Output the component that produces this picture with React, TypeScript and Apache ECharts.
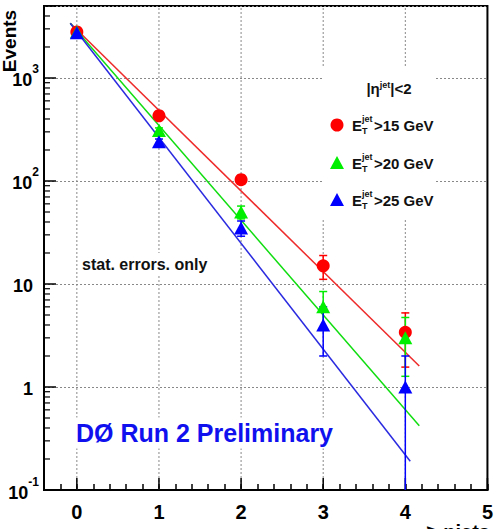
import React, { useEffect, useRef } from 'react';
import * as echarts from 'echarts';

// Jet multiplicity bins
const nJets = [0, 1, 2, 3, 4];

// Inclusive event counts and statistical errors per E_T threshold
const eventsEt15 = [2800, 430, 103, 15, 3.4];
const errorsEt15 = [53, 21, 10, 3.9, 1.84];
const eventsEt20 = [2800, 310, 50, 6, 3];
const errorsEt20 = [53, 17.6, 7.1, 2.45, 1.73];
const eventsEt25 = [2750, 240, 35, 4, 1];
const errorsEt25 = [52, 15.5, 5.9, 2, 1];

// Exponential fit lines (end points)
const fitEt15 = [[-0.08, 3400], [4.17, 1.6]];
const fitEt20 = [[-0.08, 3400], [4.17, 0.42]];
const fitEt25 = [[-0.08, 3400], [4.06, 0.19]];

// Axis ticks
const xMajorTicks = [0, 1, 2, 3, 4, 5];
const yDecades = [0.1, 1, 10, 100, 1000];
const yMinorSteps = [2, 3, 4, 5, 6, 7, 8, 9];

// Legend texts
const legendTitle = '|η{s|jet}|<2';
const legendCuts = ['>15 GeV', '>20 GeV', '>25 GeV'];

const X_MIN = -0.4;
const X_MAX = 5;
const Y_MIN = 0.1;
const Y_MAX = 5000;

const FONT = '"Liberation Sans", Arial, Helvetica, sans-serif';
const RED = '#ff0000';
const GREEN = '#00ee00';
const BLUE = '#0000ff';

function errorBars(name: string, values: number[], errors: number[], color: string) {
  return {
    type: 'custom',
    name,
    z: 3,
    silent: true,
    clip: false,
    data: nJets.map((x, i) => [x, values[i], errors[i]]),
    encode: { x: 0, y: 1 },
    renderItem: (_params: any, api: any) => {
      const x = api.value(0);
      const y = api.value(1);
      const e = api.value(2);
      const low = y - e;
      const clipped = low <= Y_MIN;
      const top = api.coord([x, y + e]);
      const bottom = api.coord([x, clipped ? Y_MIN : low]);
      const cap = 4;
      const st = { stroke: color, lineWidth: 1.5 };
      const children: any[] = [
        { type: 'line', shape: { x1: top[0], y1: top[1], x2: bottom[0], y2: bottom[1] }, style: st },
        { type: 'line', shape: { x1: top[0] - cap, y1: top[1], x2: top[0] + cap, y2: top[1] }, style: st },
      ];
      if (!clipped) {
        children.push({
          type: 'line',
          shape: { x1: bottom[0] - cap, y1: bottom[1], x2: bottom[0] + cap, y2: bottom[1] },
          style: st,
        });
      }
      return { type: 'group', children };
    },
  };
}

function points(name: string, values: number[], color: string, symbol: string, size: any) {
  return {
    type: 'scatter',
    name,
    z: 4,
    silent: true,
    symbol,
    symbolSize: size,
    itemStyle: { color, opacity: 1 },
    data: nJets.map((x, i) => [x, values[i]]),
  };
}

function fitLine(name: string, data: number[][], color: string) {
  return {
    type: 'line',
    name,
    z: 2,
    silent: true,
    symbol: 'none',
    lineStyle: { color, width: 1.5 },
    data,
  };
}

export default function App() {
  const ref = useRef<HTMLDivElement>(null);

  useEffect(() => {
    const chart = echarts.init(ref.current!, null, { renderer: 'svg' });

    const yMinorValues: number[][] = [];
    yDecades.forEach((d) => {
      yMinorSteps.forEach((s) => {
        if (d * s < Y_MAX) yMinorValues.push([X_MIN, d * s]);
      });
    });

    const legendMarkerX = 337;
    const legendRowsY = [125, 163, 200];
    const legendColors = [RED, GREEN, BLUE];

    const legendChildren: any[] = [
      {
        type: 'rect',
        shape: { x: 322, y: 67, width: 114, height: 153 },
        style: { fill: '#ffffff' },
        z: 5,
      },
      {
        type: 'text',
        x: 389,
        y: 88,
        z: 6,
        style: {
          text: legendTitle,
          fill: '#111',
          font: `bold 15px ${FONT}`,
          align: 'center',
          verticalAlign: 'middle',
          rich: {
            s: { fontSize: 9, fontWeight: 'bold', fontFamily: FONT, fill: '#111', verticalAlign: 'top', lineHeight: 9 },
          },
        },
      },
    ];
    legendCuts.forEach((cut, i) => {
      const y = legendRowsY[i];
      if (i === 0) {
        legendChildren.push({
          type: 'circle',
          z: 6,
          shape: { cx: legendMarkerX, cy: y, r: 6.5 },
          style: { fill: legendColors[i] },
        });
      } else {
        legendChildren.push({
          type: 'polygon',
          z: 6,
          shape: {
            points: [
              [legendMarkerX - 7, y + 6],
              [legendMarkerX + 7, y + 6],
              [legendMarkerX, y - 7],
            ],
          },
          style: { fill: legendColors[i] },
        });
      }
      legendChildren.push(
        {
          type: 'text', x: 352, y, z: 6,
          style: { text: 'E', fill: '#111', font: `bold 15px ${FONT}`, align: 'left', verticalAlign: 'middle' },
        },
        {
          type: 'text', x: 362, y: y - 6, z: 6,
          style: { text: 'jet', fill: '#111', font: `bold 9px ${FONT}`, align: 'left', verticalAlign: 'middle' },
        },
        {
          type: 'text', x: 362, y: y + 6, z: 6,
          style: { text: 'T', fill: '#111', font: `bold 9px ${FONT}`, align: 'left', verticalAlign: 'middle' },
        },
        {
          type: 'text', x: 374, y, z: 6,
          style: { text: cut, fill: '#111', font: `bold 15px ${FONT}`, align: 'left', verticalAlign: 'middle' },
        }
      );
    });

    const option: any = {
      animation: false,
      grid: {
        left: 44,
        top: 6,
        right: 5,
        bottom: 39,
        show: true,
        borderColor: '#000',
        borderWidth: 2,
        backgroundColor: '#fff',
        containLabel: false,
      },
      xAxis: {
        type: 'value',
        min: X_MIN,
        max: X_MAX,
        interval: 0.2,
        axisLine: { show: true, onZero: false, lineStyle: { color: '#000', width: 2 } },
        axisTick: { show: true, inside: true, length: 6, lineStyle: { color: '#000', width: 1.5 } },
        splitLine: { show: false },
        axisLabel: {
          margin: 12,
          color: '#000',
          fontSize: 20,
          fontWeight: 'bold',
          fontFamily: FONT,
          formatter: (v: number) => (Math.abs(v - Math.round(v)) < 1e-6 ? String(Math.round(v)) : ''),
        },
      },
      yAxis: {
        type: 'log',
        logBase: 10,
        min: Y_MIN,
        max: Y_MAX,
        axisLine: { show: true, onZero: false, lineStyle: { color: '#000', width: 2 } },
        axisTick: { show: true, inside: true, length: 12, lineStyle: { color: '#000', width: 1.5 } },
        splitLine: { show: true, lineStyle: { color: '#888', width: 1, type: [2, 2] } },
        axisLabel: {
          margin: 5,
          color: '#000',
          fontWeight: 'bold',
          fontFamily: FONT,
          formatter: (v: number) => {
            const lg = Math.log10(v);
            const e = Math.round(lg);
            if (Math.abs(lg - e) > 1e-6) return '';
            if (e === 0) return '{p|1}';
            if (e === 1) return '{p|10}';
            return `{b|10}{s|${e}}`;
          },
          rich: {
            p: { fontSize: 18, fontWeight: 'bold', fontFamily: FONT, color: '#000', padding: [4, 6, 0, 0] },
            b: { fontSize: 18, fontWeight: 'bold', fontFamily: FONT, color: '#000', lineHeight: 23, verticalAlign: 'bottom' },
            s: {
              fontSize: 12, fontWeight: 'bold', fontFamily: FONT, color: '#000',
              lineHeight: 12, verticalAlign: 'bottom', padding: [0, 0, 14, 0],
            },
          },
        },
      },
      graphic: [
        {
          type: 'text',
          x: 9,
          y: 41,
          rotation: Math.PI / 2,
          z: 6,
          style: { text: 'Events', fill: '#000', font: `bold 19px ${FONT}`, align: 'center', verticalAlign: 'middle' },
        },
        {
          type: 'text',
          x: 490,
          y: 532,
          z: 6,
          style: { text: '≥ njets', fill: '#000', font: `bold 20px ${FONT}`, align: 'right', verticalAlign: 'middle' },
        },
        {
          type: 'text',
          x: 79,
          y: 264,
          z: 6,
          style: {
            text: 'stat. errors. only',
            fill: '#111',
            font: `bold 16px ${FONT}`,
            align: 'left',
            verticalAlign: 'middle',
            backgroundColor: '#fff',
            padding: [3, 3],
          },
        },
        {
          type: 'text',
          x: 73,
          y: 433,
          z: 6,
          style: {
            text: 'DØ Run 2 Preliminary',
            fill: '#1010ee',
            font: `bold 25px ${FONT}`,
            align: 'left',
            verticalAlign: 'middle',
            backgroundColor: '#fff',
            padding: [3, 3],
          },
        },
        { type: 'group', children: legendChildren },
      ],
      series: [
        {
          type: 'custom',
          name: 'x-grid',
          z: 1,
          silent: true,
          clip: false,
          data: xMajorTicks.map((v) => [v, 1]),
          encode: { x: 0, y: 1 },
          renderItem: (_p: any, api: any) => {
            const x = api.value(0);
            const b = api.coord([x, Y_MIN]);
            const t = api.coord([x, Y_MAX]);
            const children: any[] = [];
            if (x < X_MAX) {
              children.push({
                type: 'line',
                shape: { x1: b[0], y1: b[1], x2: t[0], y2: t[1] },
                style: { stroke: '#888', lineWidth: 1, lineDash: [2, 2] },
              });
            }
            children.push({
              type: 'line',
              shape: { x1: b[0], y1: b[1], x2: b[0], y2: b[1] - 12 },
              style: { stroke: '#000', lineWidth: 1.5 },
            });
            return { type: 'group', children };
          },
        },
        {
          type: 'custom',
          name: 'y-minor',
          z: 1,
          silent: true,
          clip: false,
          data: yMinorValues,
          encode: { x: 0, y: 1 },
          renderItem: (_p: any, api: any) => {
            const c = api.coord([api.value(0), api.value(1)]);
            return {
              type: 'line',
              shape: { x1: c[0], y1: c[1], x2: c[0] + 6, y2: c[1] },
              style: { stroke: '#000', lineWidth: 1.2 },
            };
          },
        },
        fitLine('fit15', fitEt15, '#ee2a2a'),
        fitLine('fit20', fitEt20, '#10dd10'),
        fitLine('fit25', fitEt25, '#2a2ae0'),
        errorBars('err15', eventsEt15, errorsEt15, RED),
        points('Et>15', eventsEt15, RED, 'circle', 13),
        errorBars('err20', eventsEt20, errorsEt20, GREEN),
        points('Et>20', eventsEt20, GREEN, 'triangle', [14, 13]),
        errorBars('err25', eventsEt25, errorsEt25, BLUE),
        points('Et>25', eventsEt25, BLUE, 'triangle', [14, 13]),
      ],
    };

    chart.setOption(option);
    return () => chart.dispose();
  }, []);

  return (
    <div
      ref={ref}
      style={{ position: 'absolute', left: 0, top: 0, width: 496, height: 529, background: '#fff' }}
    />
  );
}
